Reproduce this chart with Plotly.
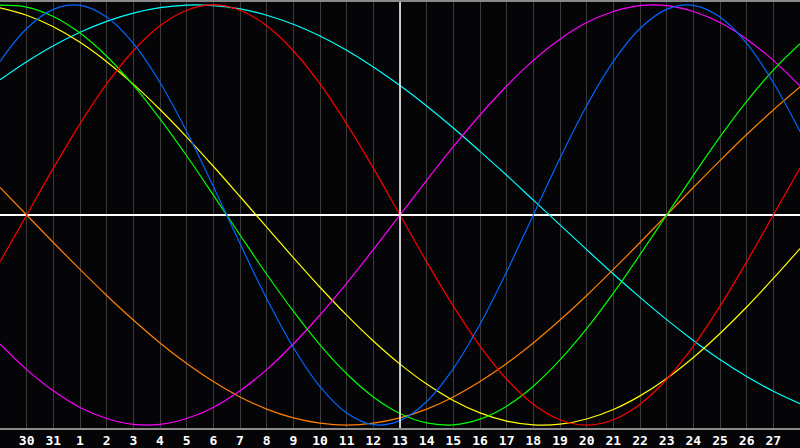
import plotly.graph_objects as go

# day positions (0 = day before first label, 30 = day after last label)
days = list(range(31))
day_labels = ["30", "31"] + [str(d) for d in range(1, 28)]
label_pos = list(range(1, 30))
today = 15

# cycle values, one per day
physical = [0.731, 0.888, 0.979, 0.998, 0.942, 0.817, 0.631, 0.398, 0.136, -0.136,
            -0.398, -0.631, -0.817, -0.942, -0.998, -0.979, -0.888, -0.731, -0.520, -0.270,
            0.000, 0.270, 0.520, 0.731, 0.888, 0.979, 0.998, 0.942, 0.817, 0.631, 0.398]
emotional = [-0.223, 0.000, 0.223, 0.434, 0.624, 0.782, 0.901, 0.975, 1.000, 0.975,
             0.901, 0.782, 0.624, 0.434, 0.223, 0.000, -0.223, -0.434, -0.624, -0.782,
             -0.901, -0.975, -1.000, -0.975, -0.901, -0.782, -0.624, -0.434, -0.223, 0.000, 0.223]
intellectual = [0.999, 0.990, 0.945, 0.866, 0.756, 0.618, 0.458, 0.282, 0.095, -0.095,
                -0.282, -0.458, -0.618, -0.756, -0.866, -0.945, -0.990, -0.999, -0.972, -0.910,
                -0.815, -0.690, -0.541, -0.372, -0.189, 0.000, 0.189, 0.372, 0.541, 0.690, 0.815]
intuitive = [-0.614, -0.736, -0.837, -0.916, -0.969, -0.997, -0.997, -0.969, -0.916, -0.837,
             -0.736, -0.614, -0.476, -0.325, -0.165, 0.000, 0.165, 0.325, 0.476, 0.614,
             0.736, 0.837, 0.916, 0.969, 0.997, 0.997, 0.969, 0.916, 0.837, 0.736, 0.614]
aesthetic = [0.986, 0.951, 0.896, 0.822, 0.730, 0.623, 0.502, 0.371, 0.232, 0.088,
             -0.058, -0.203, -0.344, -0.477, -0.600, -0.710, -0.805, -0.883, -0.942, -0.981,
             -0.999, -0.996, -0.971, -0.926, -0.861, -0.778, -0.678, -0.564, -0.438, -0.302, -0.160]
awareness = [0.131, 0.000, -0.131, -0.259, -0.383, -0.500, -0.609, -0.707, -0.793, -0.866,
             -0.924, -0.966, -0.991, -1.000, -0.991, -0.966, -0.924, -0.866, -0.793, -0.707,
             -0.609, -0.500, -0.383, -0.259, -0.131, 0.000, 0.131, 0.259, 0.383, 0.500, 0.609]
spiritual = [0.644, 0.730, 0.806, 0.870, 0.922, 0.961, 0.987, 0.999, 0.997, 0.981,
             0.951, 0.908, 0.852, 0.784, 0.705, 0.616, 0.519, 0.414, 0.303, 0.189,
             0.071, -0.047, -0.165, -0.281, -0.392, -0.498, -0.597, -0.688, -0.769, -0.839, -0.898]

series = [
    ("Spiritual", spiritual, "#00ffff"),
    ("Awareness", awareness, "#ff8000"),
    ("Aesthetic", aesthetic, "#ffff00"),
    ("Intuitive", intuitive, "#ff00ff"),
    ("Intellectual", intellectual, "#00ff00"),
    ("Emotional", emotional, "#ff0000"),
    ("Physical", physical, "#0066ff"),
]

fig = go.Figure()

for name, vals, color in series:
    fig.add_trace(go.Scatter(
        x=days, y=vals, name=name, mode="lines",
        line=dict(color=color, width=1.2, shape="spline", smoothing=1),
        hoverinfo="skip",
    ))

# today marker
fig.add_vline(x=today, line=dict(color="#ffffff", width=1.5), layer="above")

fig.update_layout(
    width=800, height=448,
    margin=dict(l=0, r=0, t=0, b=20),
    paper_bgcolor="#050407",
    plot_bgcolor="#050407",
    showlegend=False,
    xaxis=dict(
        range=[0, 30],
        tickvals=label_pos, ticktext=day_labels,
        showgrid=True, gridcolor="#3c3c3c", gridwidth=1,
        showline=True, linecolor="#8a8a8a", linewidth=1.5, mirror=True,
        ticks="", zeroline=False,
        tickfont=dict(family="DejaVu Sans Mono", size=13, color="#ffffff", weight="bold"),
    ),
    yaxis=dict(
        range=[-1.014, 1.014],
        showgrid=False, showticklabels=False, ticks="",
        showline=True, linecolor="#8a8a8a", linewidth=1.5,
        zeroline=True, zerolinecolor="#ffffff", zerolinewidth=1.5,
    ),
)

# drop the browser's default page margin so the chart fills the window
fig.write_html("out.html", config={"displayModeBar": False},
               post_script="document.body.style.margin='0';")
